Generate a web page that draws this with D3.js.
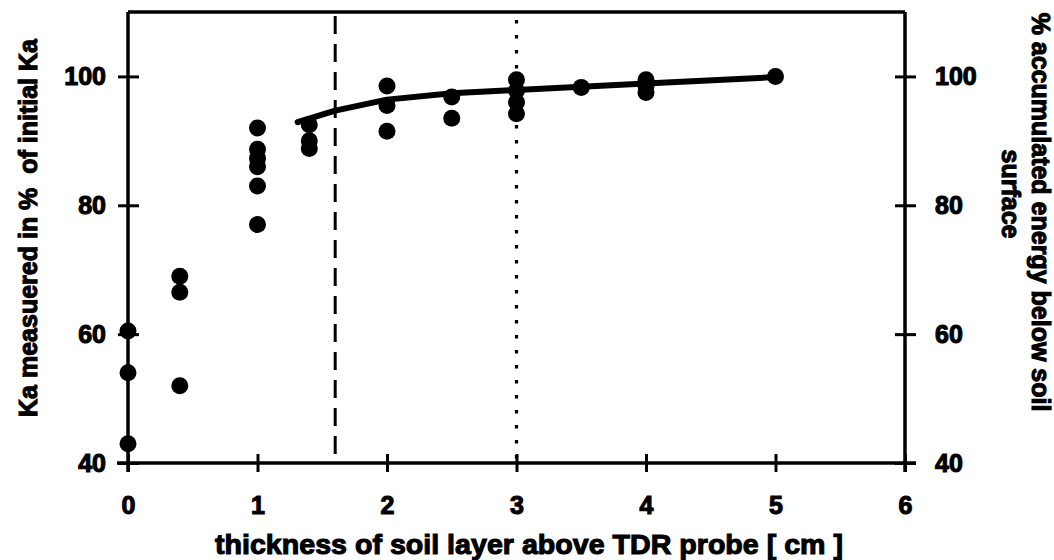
<!DOCTYPE html>
<html>
<head>
<meta charset="utf-8">
<script src="https://cdn.jsdelivr.net/npm/d3@7"></script>
<style>
  html, body { margin: 0; padding: 0; background: #fff; }
  svg { display: block; }
  text { font-family: "Liberation Sans", Arial, Helvetica, sans-serif; font-weight: bold; fill: #000; }
</style>
</head>
<body>
<svg id="chart" width="1054" height="560"></svg>
<script>
// Ka measurements (percent of initial Ka) by soil layer thickness [cm]
const kaThickness = [0, 0, 0,
  0.4, 0.4, 0.4,
  1, 1, 1, 1, 1, 1,
  1.4, 1.4, 1.4,
  2, 2, 2,
  2.5, 2.5,
  3, 3, 3, 3,
  3.5,
  4, 4, 4,
  5];
const kaPercent = [60.5, 54, 43,
  69, 66.5, 52,
  92, 88.7, 87.3, 86, 83, 77,
  92.5, 90, 88.8,
  98.5, 95.5, 91.5,
  96.8, 93.5,
  99.5, 97.8, 96, 94.2,
  98.3,
  99.5, 98.5, 97.5,
  100];

// accumulated energy below the soil surface (percent)
const energyThickness = [1.31, 1.6, 2, 2.5, 3, 3.5, 4, 5];
const energyPercent = [92.9, 94.7, 96.4, 97.4, 97.9, 98.4, 98.9, 99.9];

// reference depths marked with vertical lines
const dashedDepth = 1.6;
const dottedDepth = 3.0;

const xTicks = [0, 1, 2, 3, 4, 5, 6];
const yTicks = [40, 60, 80, 100];

const xTitle = "thickness of soil layer above TDR probe [ cm ]";
const yLeftTitle = "Ka measuered in %  of initial Ka";
const yRightTitle = ["% accumulated energy below soil", "surface"];

const svg = d3.select("#chart");
const x = d3.scaleLinear().domain([0, 6]).range([128, 905]);
const y = d3.scaleLinear().domain([40, 110]).range([463, 12]);

const ink = "#000";
const heavy = 1.1; // outline added to bold glyphs for a blacker face

// frame: top border
svg.append("line")
  .attr("x1", x(0)).attr("x2", x(6))
  .attr("y1", y(110)).attr("y2", y(110))
  .attr("stroke", ink).attr("stroke-width", 3.5);

// bottom axis
const gx = svg.append("g").attr("transform", `translate(0,${y(40)})`)
  .call(d3.axisBottom(x).tickValues(xTicks).tickFormat(d3.format("d")).tickSize(9));
gx.select(".domain").remove();
gx.append("line").attr("x1", x(0) - 11).attr("x2", x(6) + 11)
  .attr("stroke", ink).attr("stroke-width", 3.5);
gx.selectAll(".tick line").attr("y1", -9).attr("y2", 9).attr("stroke", ink).attr("stroke-width", 3);
gx.selectAll(".tick text").attr("font-size", 25).attr("dy", "0.71em")
  .attr("y", 33).style("font-family", "'Liberation Sans', Arial, sans-serif")
  .style("font-weight", "bold").attr("stroke", ink).attr("stroke-width", heavy);

// left axis
const gl = svg.append("g").attr("transform", `translate(${x(0)},0)`)
  .call(d3.axisLeft(y).tickValues(yTicks).tickFormat(d3.format("d")).tickSize(10));
gl.select(".domain").remove();
gl.append("line").attr("y1", y(110)).attr("y2", y(40) + 9)
  .attr("stroke", ink).attr("stroke-width", 3.5);
gl.selectAll(".tick line").attr("x1", -10).attr("x2", 11).attr("stroke", ink).attr("stroke-width", 3);
gl.selectAll(".tick text").attr("font-size", 25).attr("x", -22)
  .style("font-family", "'Liberation Sans', Arial, sans-serif")
  .style("font-weight", "bold").attr("stroke", ink).attr("stroke-width", heavy);

// right axis
const gr = svg.append("g").attr("transform", `translate(${x(6)},0)`)
  .call(d3.axisRight(y).tickValues(yTicks).tickFormat(d3.format("d")).tickSize(10));
gr.select(".domain").remove();
gr.append("line").attr("y1", y(110)).attr("y2", y(40) + 9)
  .attr("stroke", ink).attr("stroke-width", 3.5);
gr.selectAll(".tick line").attr("x1", -10).attr("x2", 11).attr("stroke", ink).attr("stroke-width", 3);
gr.selectAll(".tick text").attr("font-size", 25).attr("x", 30)
  .style("font-family", "'Liberation Sans', Arial, sans-serif")
  .style("font-weight", "bold").attr("stroke", ink).attr("stroke-width", heavy);

// vertical reference lines
svg.append("line")
  .attr("x1", x(dashedDepth)).attr("x2", x(dashedDepth))
  .attr("y1", y(110) + 4).attr("y2", y(40))
  .attr("stroke", ink).attr("stroke-width", 3).attr("stroke-dasharray", "18 10");
svg.append("line")
  .attr("x1", x(dottedDepth)).attr("x2", x(dottedDepth))
  .attr("y1", y(110) + 8).attr("y2", y(40))
  .attr("stroke", ink).attr("stroke-width", 3.2).attr("stroke-dasharray", "3.5 11.5");

// accumulated energy curve
const energyLine = d3.line().x(d => x(d[0])).y(d => y(d[1]));
svg.append("path")
  .datum(energyThickness.map((t, i) => [t, energyPercent[i]]))
  .attr("d", energyLine)
  .attr("fill", "none").attr("stroke", ink).attr("stroke-width", 6)
  .attr("stroke-linejoin", "round").attr("stroke-linecap", "round");

// Ka measurement points
svg.append("g").selectAll("circle")
  .data(kaThickness.map((t, i) => [t, kaPercent[i]]))
  .join("circle")
  .attr("cx", d => x(d[0])).attr("cy", d => y(d[1]))
  .attr("r", 8.5).attr("fill", ink);

// axis titles
svg.append("text")
  .attr("x", 529).attr("y", 554)
  .attr("text-anchor", "middle").attr("font-size", 28)
  .attr("stroke", ink).attr("stroke-width", heavy)
  .attr("textLength", 628).attr("lengthAdjust", "spacingAndGlyphs")
  .text(xTitle);

svg.append("text")
  .attr("transform", "translate(37,228) rotate(-90)")
  .attr("text-anchor", "middle").attr("font-size", 25)
  .attr("stroke", ink).attr("stroke-width", heavy)
  .style("white-space", "pre")
  .text(yLeftTitle);

const rt = svg.append("g").attr("transform", "translate(1032,0) rotate(90)");
rt.selectAll("text").data(yRightTitle).join("text")
  .attr("x", (d, i) => i === 0 ? 212 : 194).attr("y", (d, i) => i * 30)
  .attr("text-anchor", "middle").attr("font-size", 25)
  .attr("stroke", ink).attr("stroke-width", heavy)
  .text(d => d);
</script>
</body>
</html>
